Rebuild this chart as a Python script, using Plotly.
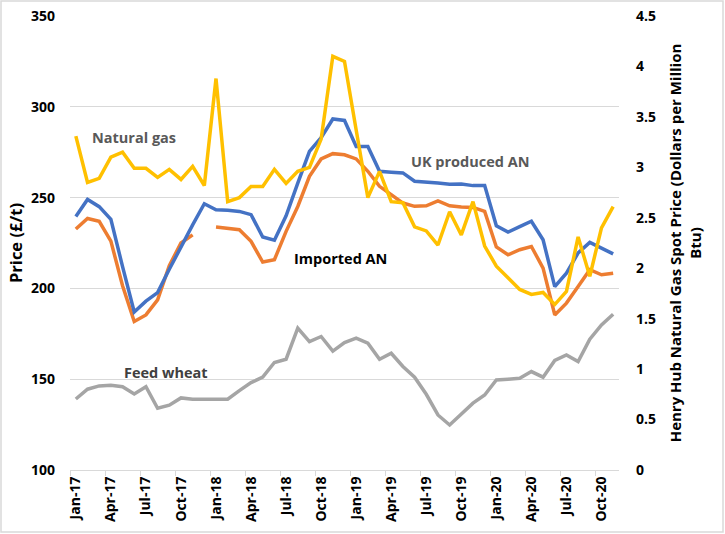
import plotly.graph_objects as go

months = ["Jan-17", "Feb-17", "Mar-17", "Apr-17", "May-17", "Jun-17", "Jul-17", "Aug-17", "Sep-17", "Oct-17", "Nov-17", "Dec-17",
          "Jan-18", "Feb-18", "Mar-18", "Apr-18", "May-18", "Jun-18", "Jul-18", "Aug-18", "Sep-18", "Oct-18", "Nov-18", "Dec-18",
          "Jan-19", "Feb-19", "Mar-19", "Apr-19", "May-19", "Jun-19", "Jul-19", "Aug-19", "Sep-19", "Oct-19", "Nov-19", "Dec-19",
          "Jan-20", "Feb-20", "Mar-20", "Apr-20", "May-20", "Jun-20", "Jul-20", "Aug-20", "Sep-20", "Oct-20", "Nov-20"]

uk_an = [239.6, 249, 245, 238, 212, 187, 193, 197.7, 210.5, 223, 235, 246.6,
         243.3, 243, 242.4, 240.6, 228.3, 226.5, 240, 258, 275.5, 283, 293.3, 292.5,
         278.2, 278.2, 264.5, 264, 263.6, 259, 258.6, 258, 257.3, 257.5, 256.6, 256.6,
         234.5, 231, 234, 237, 226.8, 201, 208.4, 219.5, 225.3, 222, 219]

imported_an = [232.7, 238.5, 236.9, 226, 201.5, 181.8, 185.4, 193.7, 212.5, 225, 229.5, None,
               233.8, 233.2, 232.3, 225.9, 214.5, 215.8, 231.4, 245.1, 261.7, 271.3, 274.2, 273.6,
               271.3, 264.5, 256.2, 251.6, 247, 245.2, 245.5, 248.2, 245.5, 244.8, 244.6, 242.4,
               222.8, 218.5, 221.3, 223.1, 211.2, 185.4, 191.9, 201, 210.3, 207.5, 208.4]

natural_gas = [3.31, 2.85, 2.89, 3.10, 3.15, 2.99, 2.99, 2.90, 2.98, 2.88, 3.01, 2.82,
               3.88, 2.66, 2.70, 2.81, 2.81, 2.98, 2.84, 2.96, 3.00, 3.28, 4.10, 4.05,
               3.37, 2.70, 2.96, 2.66, 2.65, 2.41, 2.37, 2.23, 2.56, 2.33, 2.66, 2.22,
               2.02, 1.90, 1.79, 1.74, 1.76, 1.64, 1.77, 2.31, 1.92, 2.40, 2.61]

feed_wheat = [139.1, 144.5, 146.3, 146.7, 145.9, 141.9, 145.9, 134, 135.7, 139.7, 139, 139,
              139.3, 139, 143.7, 148.1, 151.1, 159.2, 161, 178.1, 170.7, 173.5, 165.5, 170.2,
              172.6, 169.8, 161, 164.3, 157, 151.1, 141.7, 130.3, 124.8, 130.7, 136.8, 141.3,
              149.6, 150, 150.5, 154.2, 151.1, 160.3, 163.4, 159.7, 172, 179.9, 185.8]

FONT = "Open Sans"
W, H = 725, 534
ML, MR, MT, MB = 70, 106, 16, 64
PW, PH = W - ML - MR, H - MT - MB

def px(x):
    return (x - ML) / PW

def py(y):
    return (H - MB - y) / PH

fig = go.Figure()
fig.add_trace(go.Scatter(x=months, y=feed_wheat, mode="lines", name="Feed wheat",
                         line=dict(color="#A5A5A5", width=3.5)))
fig.add_trace(go.Scatter(x=months, y=imported_an, mode="lines", name="Imported AN",
                         line=dict(color="#ED7D31", width=3.5), connectgaps=False))
fig.add_trace(go.Scatter(x=months, y=uk_an, mode="lines", name="UK produced AN",
                         line=dict(color="#4472C4", width=3.5)))
fig.add_trace(go.Scatter(x=months, y=natural_gas, mode="lines", name="Natural gas",
                         line=dict(color="#FFC000", width=3.5), yaxis="y2"))

tickfont = dict(family=FONT, size=14, color="#000000", weight="bold")

fig.update_layout(
    width=W, height=H,
    margin=dict(l=ML, r=MR, t=MT, b=MB),
    paper_bgcolor="white", plot_bgcolor="white",
    showlegend=False,
    xaxis=dict(
        type="category", range=[-0.5, len(months) - 0.5],
        tickmode="linear", tick0=0, dtick=3, tickson="boundaries",
        tickangle=-90, tickfont=dict(family=FONT, size=14, color="#000000", weight="bold"),
        showgrid=False, showline=True, linecolor="#D9D9D9", linewidth=1,
        ticks="outside", ticklen=5, tickcolor="#D9D9D9", automargin=False,
    ),
    yaxis=dict(
        range=[100, 350], dtick=50, tickfont=tickfont,
        showgrid=True, gridcolor="#D9D9D9", gridwidth=1, zeroline=False,
        showline=False, ticks="", ticklabelstandoff=14, automargin=False,
        title=dict(text="Price (£/t)", font=dict(family=FONT, size=16.5, color="#000000", weight="bold"), standoff=4),
    ),
    yaxis2=dict(
        range=[0, 4.5], dtick=0.5, overlaying="y", side="right", tickfont=tickfont,
        showgrid=False, zeroline=False, showline=False, ticks="", ticklabelstandoff=16,
        automargin=False,
        title=dict(text="Henry Hub Natural Gas Spot Price (Dollars per Million<br>Btu)",
                   font=dict(family=FONT, size=15, color="#000000", weight="bold"), standoff=15),
    ),
)

ann_font = dict(family=FONT, size=14.5, weight="bold")
labels = [
    ("Natural gas", 90, 137, "#595959"),
    ("UK produced AN", 409, 161, "#595959"),
    ("Imported AN", 292, 258, "#000000"),
    ("Feed wheat", 122, 372, "#404040"),
]
for text, x, y, col in labels:
    fig.add_annotation(text=text, xref="paper", yref="paper", x=px(x), y=py(y),
                       xanchor="left", yanchor="middle", showarrow=False,
                       font=dict(color=col, **ann_font))

fig.add_shape(type="rect", xref="paper", yref="paper",
              x0=px(1), x1=px(W - 2), y0=py(H - 2), y1=py(1),
              line=dict(color="#D9D9D9", width=1.5), fillcolor="rgba(0,0,0,0)", layer="below")

fig.write_html("out.html")
